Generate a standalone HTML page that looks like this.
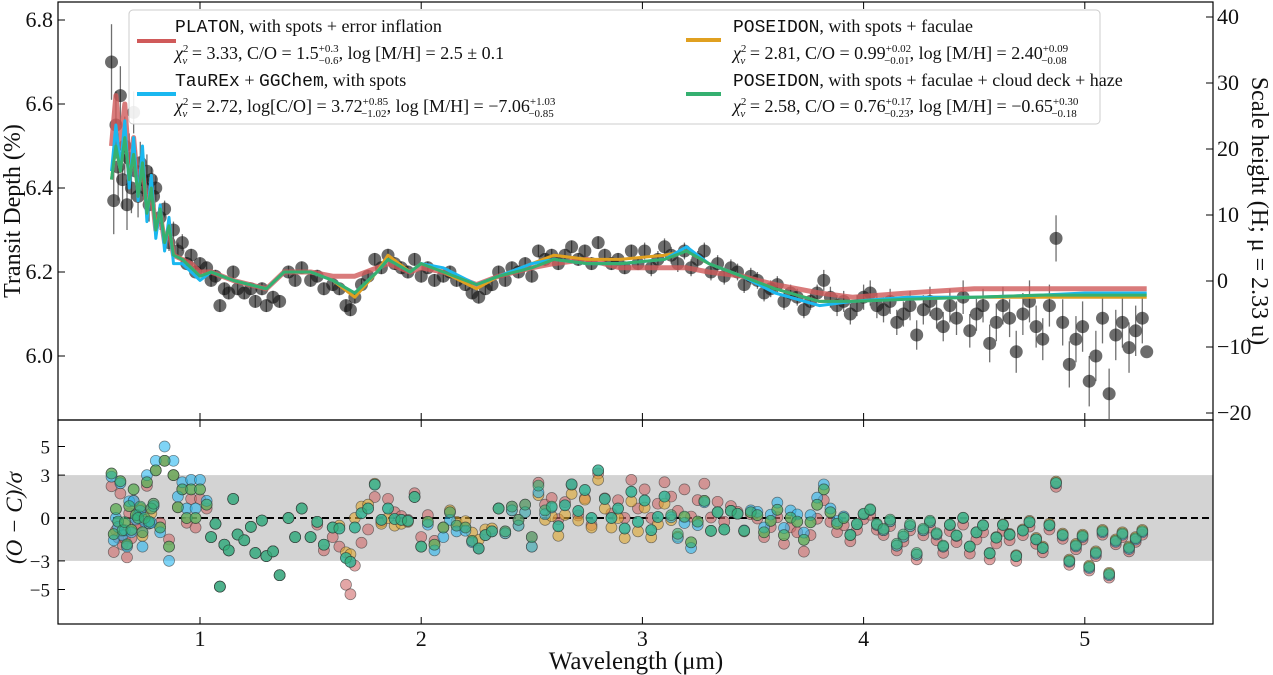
<!DOCTYPE html>
<html><head><meta charset="utf-8"><style>
body{margin:0;background:#fff;width:1273px;height:675px;overflow:hidden;position:relative}
svg text{font-family:"Liberation Serif",serif;fill:#111}
.mono{font-family:"Liberation Mono",monospace}
</style></head><body>
<svg id="chart" width="1273" height="675" viewBox="0 0 1273 675" xmlns="http://www.w3.org/2000/svg" style="position:absolute;left:0;top:0">
<defs>
<clipPath id="clipTop"><rect x="58" y="2" width="1155" height="418"/></clipPath>
<clipPath id="clipBot"><rect x="58" y="420" width="1155" height="204"/></clipPath>
</defs>
<g id="topPanel" clip-path="url(#clipTop)"></g>
<g id="botPanel" clip-path="url(#clipBot)"></g>
<g id="axesGroup"></g>
</svg>
<script>
const obsWave=[0.60,0.61,0.62,0.63,0.64,0.65,0.66,0.67,0.68,0.69,0.70,0.71,0.72,0.73,0.74,0.75,0.76,0.77,0.78,0.79,0.80,0.82,0.84,0.86,0.88,0.90,0.92,0.94,0.96,0.98,1.00,1.03,1.05,1.07,1.09,1.11,1.13,1.15,1.17,1.20,1.23,1.25,1.28,1.30,1.33,1.36,1.40,1.43,1.46,1.50,1.53,1.56,1.60,1.63,1.66,1.68,1.70,1.73,1.76,1.79,1.82,1.85,1.88,1.91,1.94,1.97,2.00,2.03,2.06,2.10,2.13,2.16,2.20,2.23,2.26,2.29,2.32,2.35,2.38,2.41,2.44,2.47,2.50,2.53,2.56,2.59,2.62,2.65,2.68,2.71,2.74,2.77,2.80,2.83,2.86,2.89,2.92,2.95,2.98,3.01,3.04,3.07,3.10,3.13,3.16,3.19,3.22,3.25,3.28,3.31,3.34,3.37,3.40,3.43,3.46,3.49,3.52,3.55,3.58,3.61,3.64,3.67,3.70,3.73,3.76,3.79,3.82,3.85,3.88,3.91,3.94,3.97,4.00,4.03,4.06,4.09,4.12,4.15,4.18,4.21,4.24,4.27,4.30,4.33,4.36,4.39,4.42,4.45,4.48,4.51,4.54,4.57,4.60,4.63,4.66,4.69,4.72,4.75,4.78,4.81,4.84,4.87,4.90,4.93,4.96,4.99,5.02,5.05,5.08,5.11,5.14,5.17,5.20,5.23,5.26,5.28];
const obsDepth=[6.70,6.37,6.55,6.45,6.62,6.42,6.50,6.36,6.47,6.40,6.58,6.44,6.38,6.46,6.42,6.40,6.44,6.36,6.42,6.38,6.40,6.33,6.35,6.27,6.30,6.25,6.27,6.22,6.24,6.20,6.22,6.21,6.18,6.19,6.12,6.16,6.15,6.20,6.16,6.15,6.16,6.13,6.16,6.12,6.14,6.13,6.20,6.18,6.21,6.18,6.19,6.16,6.17,6.16,6.12,6.11,6.14,6.17,6.19,6.23,6.21,6.24,6.22,6.21,6.20,6.23,6.19,6.21,6.18,6.19,6.20,6.18,6.17,6.15,6.14,6.16,6.17,6.20,6.18,6.21,6.20,6.22,6.19,6.25,6.23,6.24,6.22,6.24,6.26,6.23,6.25,6.22,6.27,6.24,6.22,6.23,6.21,6.25,6.22,6.25,6.21,6.23,6.26,6.24,6.22,6.25,6.21,6.23,6.25,6.20,6.22,6.19,6.21,6.20,6.17,6.19,6.18,6.15,6.16,6.17,6.13,6.15,6.14,6.11,6.13,6.15,6.18,6.14,6.12,6.13,6.10,6.12,6.14,6.15,6.12,6.11,6.13,6.08,6.10,6.12,6.05,6.11,6.13,6.10,6.07,6.12,6.09,6.14,6.06,6.10,6.12,6.03,6.08,6.12,6.09,6.01,6.10,6.13,6.07,6.04,6.12,6.28,6.08,5.98,6.04,6.07,5.94,6.00,6.09,5.91,6.05,6.08,6.02,6.06,6.09,6.01];
const obsErr=[0.09,0.08,0.08,0.08,0.07,0.07,0.07,0.06,0.06,0.06,0.05,0.05,0.05,0.05,0.04,0.04,0.04,0.04,0.03,0.03,0.03,0.03,0.02,0.02,0.02,0.02,0.02,0.015,0.015,0.015,0.015,0.015,0.015,0.015,0.015,0.015,0.015,0.015,0.015,0.015,0.015,0.015,0.015,0.015,0.015,0.015,0.015,0.015,0.015,0.015,0.015,0.015,0.015,0.015,0.015,0.015,0.015,0.015,0.015,0.015,0.015,0.015,0.015,0.015,0.015,0.015,0.015,0.015,0.015,0.015,0.015,0.015,0.015,0.015,0.015,0.015,0.015,0.015,0.015,0.015,0.015,0.015,0.015,0.015,0.015,0.015,0.015,0.015,0.015,0.015,0.015,0.015,0.015,0.015,0.015,0.015,0.015,0.015,0.015,0.02,0.02,0.02,0.02,0.02,0.02,0.02,0.02,0.02,0.02,0.02,0.02,0.02,0.02,0.02,0.02,0.02,0.02,0.02,0.02,0.02,0.02,0.02,0.02,0.02,0.02,0.02,0.025,0.025,0.025,0.025,0.025,0.025,0.03,0.03,0.03,0.03,0.03,0.03,0.03,0.035,0.035,0.035,0.035,0.035,0.035,0.04,0.04,0.04,0.04,0.04,0.04,0.045,0.045,0.045,0.045,0.05,0.05,0.05,0.05,0.05,0.05,0.055,0.055,0.055,0.055,0.06,0.06,0.06,0.06,0.06,0.06,0.06,0.06,0.06,0.06];
const modelWave=[0.60,0.62,0.64,0.66,0.68,0.70,0.72,0.74,0.76,0.78,0.80,0.82,0.84,0.86,0.88,0.92,0.96,1.00,1.05,1.15,1.30,1.38,1.50,1.60,1.70,1.80,1.85,1.95,2.00,2.10,2.25,2.35,2.50,2.60,2.75,2.90,3.10,3.20,3.30,3.45,3.60,3.80,3.95,4.20,4.50,4.80,5.00,5.28];
const greenModel=[6.42,6.50,6.44,6.52,6.42,6.48,6.38,6.46,6.34,6.40,6.30,6.35,6.27,6.31,6.24,6.23,6.21,6.19,6.20,6.18,6.16,6.20,6.20,6.18,6.15,6.20,6.23,6.20,6.22,6.20,6.17,6.19,6.21,6.23,6.22,6.22,6.23,6.25,6.22,6.19,6.16,6.13,6.13,6.135,6.14,6.145,6.145,6.145];
const blueModel=[6.44,6.55,6.45,6.56,6.40,6.52,6.37,6.50,6.32,6.43,6.28,6.36,6.25,6.33,6.22,6.22,6.20,6.18,6.20,6.18,6.16,6.20,6.20,6.18,6.15,6.20,6.23,6.20,6.22,6.21,6.17,6.19,6.22,6.23,6.22,6.22,6.23,6.26,6.22,6.19,6.15,6.12,6.13,6.14,6.14,6.145,6.15,6.15];
const orangeModel=[6.42,6.50,6.44,6.53,6.42,6.48,6.38,6.47,6.34,6.41,6.30,6.35,6.27,6.31,6.24,6.23,6.21,6.19,6.20,6.18,6.16,6.20,6.20,6.18,6.14,6.20,6.24,6.20,6.22,6.20,6.16,6.19,6.22,6.24,6.23,6.23,6.24,6.25,6.22,6.19,6.16,6.13,6.13,6.14,6.14,6.14,6.14,6.14];
const redModel=[6.50,6.62,6.50,6.60,6.45,6.52,6.40,6.46,6.35,6.40,6.30,6.34,6.27,6.30,6.24,6.23,6.22,6.20,6.20,6.18,6.16,6.20,6.20,6.19,6.19,6.21,6.22,6.20,6.21,6.20,6.17,6.19,6.21,6.22,6.23,6.21,6.21,6.21,6.20,6.19,6.17,6.15,6.14,6.15,6.16,6.16,6.16,6.16];
const xTicks=[1,2,3,4,5];
const yTicks=[6.0,6.2,6.4,6.6,6.8];
const rTicks=[40,30,20,10,0,-10,-20];
const resTicks=[5,3,0,-3,-5];

const NS='http://www.w3.org/2000/svg';
const X0=58,X1=1213,T0=2,T1=420,B1=624;
const xs=w=>200+(w-1)*221.2;
const ys=d=>20+(6.8-d)*420;
const rs=h=>281-h*6.6;
const res=r=>518-r*14.3;
function mk(tag,attrs,parent){const e=document.createElementNS(NS,tag);for(const k in attrs)e.setAttribute(k,attrs[k]);parent.appendChild(e);return e;}
const topG=document.getElementById('topPanel'),botG=document.getElementById('botPanel'),axG=document.getElementById('axesGroup');
function interp(w,ws,vs){for(let i=0;i<ws.length-1;i++){if(w<=ws[i+1]){const t=(w-ws[i])/(ws[i+1]-ws[i]);return vs[i]+t*(vs[i+1]-vs[i]);}}return vs[vs.length-1];}

obsWave.forEach((w,i)=>{
  const x=xs(w),y=ys(obsDepth[i]),e=obsErr[i]*420;
  const l=mk('line',{x1:x,x2:x,y1:y-e,y2:y+e,stroke:'#333','stroke-width':1.3,opacity:0.7},topG);
  
  
  const c=mk('circle',{cx:x,cy:y,r:6.5,fill:'#111','fill-opacity':0.62},topG);
  
  
});
const models=[[redModel,'#d05a5a',5,0.8],[orangeModel,'#e0a020',3,1],[blueModel,'#1ab8f0',3,1],[greenModel,'#35b070',3,1]];
const modelNames=['platon-model-line','poseidon-faculae-model-line','taurex-model-line','poseidon-cloud-model-line'];
models.forEach((m,k)=>{
  const pts=modelWave.map((w,i)=>xs(w).toFixed(1)+','+ys(m[0][i]).toFixed(1)).join(' ');
  const p=mk('polyline',{points:pts,fill:'none',stroke:m[1],'stroke-width':m[2],opacity:m[3],'stroke-linejoin':'round'},topG);
  
  
});
mk('rect',{x:X0,y:res(3),width:X1-X0,height:res(-3)-res(3),fill:'#d3d3d3'},botG);
const zl=mk('line',{x1:X0,x2:X1,y1:res(0),y2:res(0),stroke:'#000','stroke-width':2,'stroke-dasharray':'7,4'},botG);


const resCols=['#d06a6a','#e0a830','#2ab8f0','#35b070'];
const resNames=['platon-residual','poseidon-faculae-residual','taurex-residual','poseidon-cloud-residual'];
models.forEach((m,k)=>{
  obsWave.forEach((w,i)=>{
    let r=(obsDepth[i]-interp(w,modelWave,m[0]))/obsErr[i];
    r=Math.max(-6.8,Math.min(6.8,r));
    const c=mk('circle',{cx:xs(w),cy:res(r),r:5.5,fill:resCols[k],'fill-opacity':0.6,stroke:'#333','stroke-width':0.7,'stroke-opacity':0.6},botG);
    
    
  });
});
mk('rect',{x:X0,y:T0,width:X1-X0,height:T1-T0,fill:'none',stroke:'#000','stroke-width':1.2},axG);
mk('rect',{x:X0,y:T1,width:X1-X0,height:B1-T1,fill:'none',stroke:'#000','stroke-width':1.2},axG);
function txt(s,x,y,attrs,name){const t=mk('text',Object.assign({x:x,y:y,'font-size':22},attrs||{}),axG);t.textContent=s;return t;}
xTicks.forEach(v=>{const x=xs(v);
  [[T1,T1-7],[B1,B1-7],[T0,T0+7],[T1,T1+7]].forEach(a=>mk('line',{x1:x,x2:x,y1:a[0],y2:a[1],stroke:'#000'},axG));
  txt(String(v),x,646,{'text-anchor':'middle'},'x-tick-label');});
yTicks.forEach(v=>{const y=ys(v);mk('line',{x1:X0,x2:X0+7,y1:y,y2:y,stroke:'#000'},axG);
  txt(v.toFixed(1),X0-5,y+7,{'text-anchor':'end'},'y-tick-label');});
rTicks.forEach(v=>{const y=rs(v);mk('line',{x1:X1,x2:X1-7,y1:y,y2:y,stroke:'#000'},axG);
  txt(v<0?'\u2212'+(-v):String(v),X1+4,y+7,{},'right-tick-label');});
resTicks.forEach(v=>{const y=res(v);mk('line',{x1:X0,x2:X0+7,y1:y,y2:y,stroke:'#000'},axG);
  txt(v<0?'\u2212'+(-v):String(v),X0-8,y+7,{'text-anchor':'end','font-size':19},'residual-tick-label');});
txt('Wavelength (\u03bcm)',636,669,{'text-anchor':'middle','font-size':25},'x-axis-title');
txt('Transit Depth (%)',0,0,{'text-anchor':'middle','font-size':24,transform:'translate(20,211) rotate(-90)'},'y-axis-title');
txt('(O \u2212 C)/\u03c3',0,0,{'text-anchor':'middle','font-size':23,'font-style':'italic',transform:'translate(22,518) rotate(-90)'},'residual-axis-title');
txt('Scale height (H; \u03bc = 2.33 u)',0,0,{'text-anchor':'middle','font-size':24,transform:'translate(1252,211) rotate(90)'},'right-axis-title');
</script>
<svg style="position:absolute;left:0;top:0" width="1273" height="675">
<rect x="129" y="10" width="971" height="114" rx="4" fill="#fff" fill-opacity="0.9" stroke="#ccc"/>
<line x1="137" x2="176" y1="41" y2="41" stroke="#d05a5a" stroke-width="4"/>
<line x1="137" x2="176" y1="94" y2="94" stroke="#1ab8f0" stroke-width="4"/>
<line x1="686" x2="721" y1="40" y2="40" stroke="#e0a020" stroke-width="4"/>
<line x1="686" x2="721" y1="94" y2="94" stroke="#35b070" stroke-width="4"/>
<g font-size="18">
<text x="175" y="32"><tspan class="mono">PLATON</tspan>,  with spots + error inflation</text>
<text x="175" y="59"><tspan font-style="italic">χ</tspan><tspan font-size="11" dy="-7">2</tspan><tspan font-size="11" font-style="italic" dx="-6" dy="12">ν</tspan><tspan dy="-5"> = 3.33,  C/O = 1.5</tspan><tspan font-size="11" dy="-7">+0.3</tspan><tspan font-size="11" dx="-20" dy="12">−0.6</tspan><tspan dy="-5">,  log [M/H] = 2.5 ± 0.1</tspan></text>
<text x="175" y="86"><tspan class="mono">TauREx</tspan> + <tspan class="mono">GGChem</tspan>,  with spots</text>
<text x="175" y="112"><tspan font-style="italic">χ</tspan><tspan font-size="11" dy="-7">2</tspan><tspan font-size="11" font-style="italic" dx="-6" dy="12">ν</tspan><tspan dy="-5"> = 2.72,  log[C/O] = 3.72</tspan><tspan font-size="11" dy="-7">+0.85</tspan><tspan font-size="11" dx="-27" dy="12">−1.02</tspan><tspan dy="-5">,  log [M/H] = −7.06</tspan><tspan font-size="11" dy="-7">+1.03</tspan><tspan font-size="11" dx="-27" dy="12">−0.85</tspan></text>
<text x="733" y="32"><tspan class="mono">POSEIDON</tspan>,  with spots + faculae</text>
<text x="733" y="59"><tspan font-style="italic">χ</tspan><tspan font-size="11" dy="-7">2</tspan><tspan font-size="11" font-style="italic" dx="-6" dy="12">ν</tspan><tspan dy="-5"> = 2.81,  C/O = 0.99</tspan><tspan font-size="11" dy="-7">+0.02</tspan><tspan font-size="11" dx="-27" dy="12">−0.01</tspan><tspan dy="-5">,  log [M/H] = 2.40</tspan><tspan font-size="11" dy="-7">+0.09</tspan><tspan font-size="11" dx="-27" dy="12">−0.08</tspan></text>
<text x="733" y="86"><tspan class="mono">POSEIDON</tspan>,  with spots + faculae + cloud deck + haze</text>
<text x="733" y="112"><tspan font-style="italic">χ</tspan><tspan font-size="11" dy="-7">2</tspan><tspan font-size="11" font-style="italic" dx="-6" dy="12">ν</tspan><tspan dy="-5"> = 2.58,  C/O = 0.76</tspan><tspan font-size="11" dy="-7">+0.17</tspan><tspan font-size="11" dx="-27" dy="12">−0.23</tspan><tspan dy="-5">,  log [M/H] = −0.65</tspan><tspan font-size="11" dy="-7">+0.30</tspan><tspan font-size="11" dx="-27" dy="12">−0.18</tspan></text>
</g>
</svg>
</body></html>
